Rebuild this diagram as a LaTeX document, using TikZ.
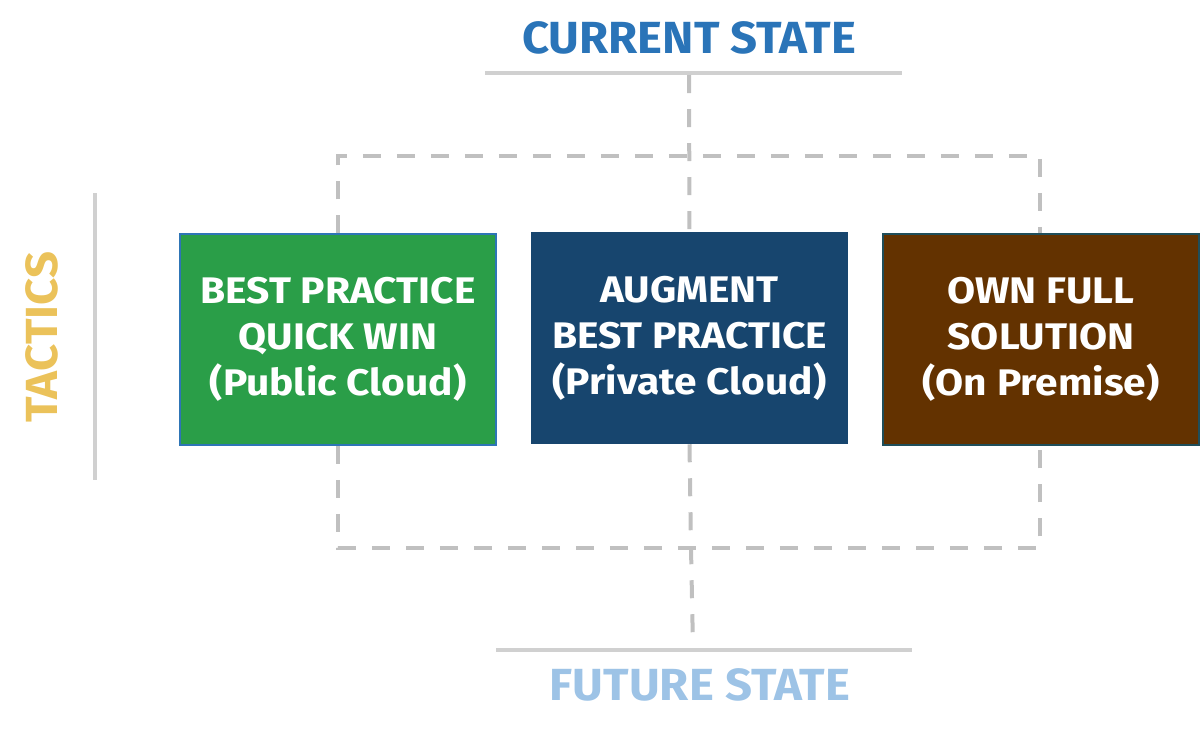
\documentclass[tikz,border=0pt]{standalone}
\usepackage{fontspec}
\setmainfont{Fira Sans}
\newfontfamily\boxfont[FakeStretch=1.1]{Fira Sans}
\newfontfamily\headfont[FakeStretch=1.05]{Fira Sans}
\definecolor{curblue}{HTML}{2A74B8}
\definecolor{futblue}{HTML}{9DC3E6}
\definecolor{gold}{HTML}{EBC25A}
\definecolor{linegray}{HTML}{D0D0D0}
\definecolor{dashgray}{HTML}{C0C0C0}
\definecolor{boxgreen}{HTML}{2A9E48}
\definecolor{boxblue}{HTML}{17456E}
\definecolor{boxbrown}{HTML}{633200}
\definecolor{edgeblue}{HTML}{2E75B6}
\definecolor{edgeteal}{HTML}{1F4E5A}
\begin{document}
\begin{tikzpicture}[x=1pt,y=-1pt,
  solidline/.style={draw=linegray,line width=4pt},
  dashline/.style={draw=dashgray,line width=4pt,dash pattern=on 18pt off 16pt},
  tactic/.style={rectangle,minimum width=316pt,minimum height=211pt,inner sep=0pt,
    text=white,font=\boxfont\fontsize{37}{46}\selectfont\bfseries,align=center,line width=1.5pt},
  heading/.style={font=\headfont\fontsize{45}{50}\selectfont\bfseries,inner sep=0pt}]
\useasboundingbox (0,0) rectangle (1200,740);
% boxes
\node[tactic,fill=boxgreen,draw=edgeblue] (green) at (338,339.5) {BEST PRACTICE\\QUICK WIN\\(Public Cloud)};
\node[tactic,fill=boxblue,draw=boxblue] (blue) at (689.5,338) {AUGMENT\\BEST PRACTICE\\(Private Cloud)};
\node[tactic,fill=boxbrown,draw=edgeteal] (brown) at (1041,339.5) {OWN FULL\\SOLUTION\\(On Premise)};
% headings
\node[heading,text=curblue] (cur) at (689,38) {CURRENT STATE};
\node[heading,text=futblue] (fut) at (700,685) {FUTURE STATE};
\node[heading,text=gold,rotate=90] (tac) at (42,337) {TACTICS};
% solid lines
\coordinate (tl) at (485,73); \coordinate (tr) at (902,73);
\coordinate (bl) at (496,650); \coordinate (br) at (912,650);
\coordinate (vt) at (95,193); \coordinate (vb) at (95,480);
\draw[solidline] (tl) -- (tr);
\draw[solidline] (bl) -- (br);
\draw[solidline] (vt) -- (vb);
% dashed connectors
\coordinate (topmid) at (689,75);
\coordinate (topL) at (338,156); \coordinate (topR) at (1040,156);
\coordinate (botL) at (338,548); \coordinate (botR) at (1040,548);
\coordinate (botM) at (691,548); \coordinate (botMb) at (693,648);
\draw[dashline] (topmid) -- (blue.north);
\draw[dashline] (green.north) -- (topL) -- (topR) -- (brown.north -| topR);
\draw[dashline] (green.south) -- (botL) -- (botR) -- (brown.south -| botR);
\draw[dashline] (blue.south) -- (botM) -- (botMb);
\end{tikzpicture}
\end{document}
